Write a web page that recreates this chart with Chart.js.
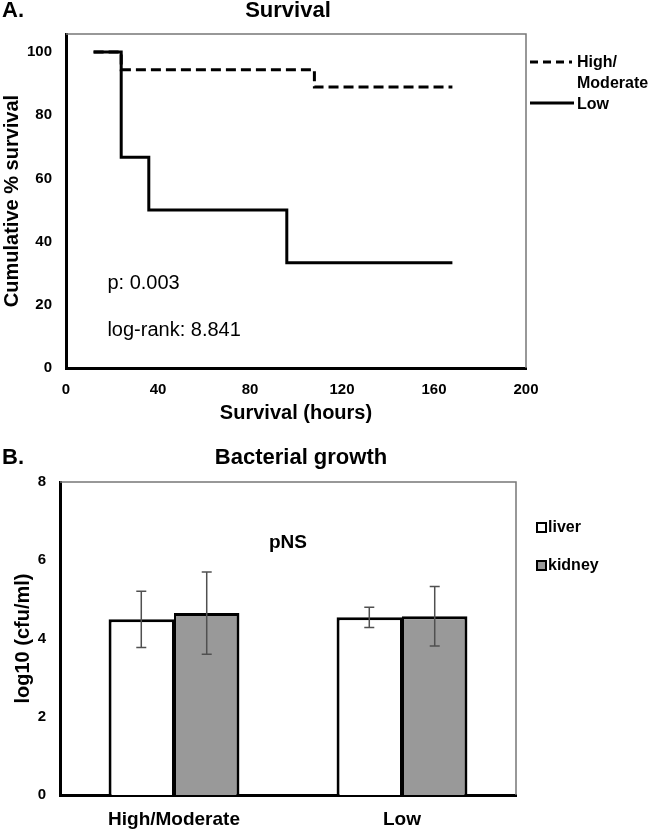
<!DOCTYPE html>
<html>
<head>
<meta charset="utf-8">
<script src="https://cdn.jsdelivr.net/npm/chart.js@4.4.1/dist/chart.umd.min.js"></script>
<style>
    body { margin: 0; background: #fff; }
    canvas { position: absolute; left: 0; }
    #survivalChart { top: 0; }
    #growthChart { top: 430px; }
</style>
</head>
<body>
<canvas id="survivalChart" width="650" height="430"></canvas>
<canvas id="growthChart" width="650" height="403"></canvas>
<script>
// panel A: Kaplan-Meier steps
var lowHours = [12, 24, 36, 96, 168];
var lowSurvival = [100, 66.7, 50, 33.3, 33.3];
var highHours = [12, 24, 108, 168];
var highSurvival = [100, 94.4, 88.9, 88.9];
var hourTicks = [0, 40, 80, 120, 160, 200];
var survivalTicks = [0, 20, 40, 60, 80, 100];

// panel B: bacterial load, mean and error
var groups = ['High/Moderate', 'Low'];
var liverMean = [4.49, 4.54];
var liverErr = [0.72, 0.26];
var kidneyMean = [4.65, 4.57];
var kidneyErr = [1.05, 0.76];
var growthTicks = [0, 2, 4, 6, 8];

var FONT = "'Liberation Sans', Arial, sans-serif";
Chart.defaults.font.family = FONT;
Chart.defaults.color = '#000';

function toPoints(xs, ys) {
    var pts = [];
    for (var i = 0; i < xs.length; i++) {
        pts.push({x: xs[i], y: ys[i]});
    }
    return pts;
}

function fixedTicks(list) {
    return function (scale) {
        scale.ticks = list.map(function (v) { return {value: v}; });
    };
}

function drawFrame(chart) {
    var a = chart.chartArea, ctx = chart.ctx;
    ctx.save();
    ctx.strokeStyle = '#777';
    ctx.lineWidth = 1.5;
    ctx.beginPath();
    ctx.moveTo(a.left, a.top);
    ctx.lineTo(a.right, a.top);
    ctx.lineTo(a.right, a.bottom);
    ctx.stroke();
    ctx.restore();
}

function text(ctx, str, x, y, size, weight, align) {
    ctx.font = weight + ' ' + size + 'px ' + FONT;
    ctx.textAlign = align || 'left';
    ctx.textBaseline = 'middle';
    ctx.fillStyle = '#000';
    ctx.fillText(str, x, y);
}

var survivalExtras = {
    id: 'survivalExtras',
    afterDraw: function (chart) {
        var ctx = chart.ctx, xs = chart.scales.x, ys = chart.scales.y;
        drawFrame(chart);
        text(ctx, 'A.', 2, 11, 22, 'bold');
        text(ctx, 'Survival', 288, 11, 22, 'bold', 'center');
        text(ctx, 'p: 0.003', xs.getPixelForValue(18), ys.getPixelForValue(26.9), 20, 'normal');
        text(ctx, 'log-rank: 8.841', xs.getPixelForValue(18), ys.getPixelForValue(12), 20, 'normal');

        // legend
        ctx.save();
        ctx.strokeStyle = '#000';
        ctx.lineWidth = 3;
        ctx.setLineDash([8, 5]);
        ctx.beginPath();
        ctx.moveTo(530, 62);
        ctx.lineTo(572, 62);
        ctx.stroke();
        ctx.setLineDash([]);
        ctx.beginPath();
        ctx.moveTo(530, 103);
        ctx.lineTo(574, 103);
        ctx.stroke();
        ctx.restore();
        text(ctx, 'High/', 577, 63, 16, 'bold');
        text(ctx, 'Moderate', 577, 84, 16, 'bold');
        text(ctx, 'Low', 577, 105, 16, 'bold');
    }
};

new Chart(document.getElementById('survivalChart'), {
    type: 'line',
    data: {
        datasets: [{
            label: 'Low',
            data: toPoints(lowHours, lowSurvival),
            borderColor: '#000',
            borderWidth: 3,
            stepped: 'before',
            pointRadius: 0,
            fill: false
        }, {
            label: 'High/Moderate',
            data: toPoints(highHours, highSurvival),
            borderColor: '#000',
            borderWidth: 3,
            borderDash: [10, 5],
            stepped: 'before',
            pointRadius: 0,
            fill: false
        }]
    },
    options: {
        responsive: false,
        animation: false,
        devicePixelRatio: 1,
        layout: {padding: {left: 0, top: 34, right: 124, bottom: 0}},
        plugins: {legend: {display: false}, tooltip: {enabled: false}},
        scales: {
            x: {
                type: 'linear',
                min: 0,
                max: 200,
                afterBuildTicks: fixedTicks(hourTicks),
                afterFit: function (s) { s.height = 62; },
                grid: {display: false, drawTicks: false},
                border: {display: true, color: '#000', width: 3},
                ticks: {padding: 13, font: {size: 15, weight: 'bold'}},
                title: {
                    display: true,
                    text: 'Survival (hours)',
                    font: {size: 20, weight: 'bold'},
                    padding: {top: 0, bottom: 5}
                }
            },
            y: {
                min: 0,
                max: 105.7,
                afterBuildTicks: fixedTicks(survivalTicks),
                afterFit: function (s) { s.width = 66; },
                grid: {display: false, drawTicks: false},
                border: {display: true, color: '#000', width: 3},
                ticks: {padding: 14, font: {size: 15, weight: 'bold'}},
                title: {
                    display: true,
                    text: 'Cumulative % survival',
                    font: {size: 20, weight: 'bold'},
                    padding: {top: 0, bottom: 0}
                }
            }
        }
    },
    plugins: [survivalExtras]
});

var growthExtras = {
    id: 'growthExtras',
    afterDatasetsDraw: function (chart) {
        var ctx = chart.ctx, ys = chart.scales.y;
        var errs = [liverErr, kidneyErr];
        var means = [liverMean, kidneyMean];
        ctx.save();
        ctx.strokeStyle = '#505050';
        ctx.lineWidth = 1.5;
        for (var d = 0; d < 2; d++) {
            var meta = chart.getDatasetMeta(d);
            for (var i = 0; i < meta.data.length; i++) {
                var x = meta.data[i].x;
                var hi = ys.getPixelForValue(means[d][i] + errs[d][i]);
                var lo = ys.getPixelForValue(means[d][i] - errs[d][i]);
                ctx.beginPath();
                ctx.moveTo(x, hi); ctx.lineTo(x, lo);
                ctx.moveTo(x - 5, hi); ctx.lineTo(x + 5, hi);
                ctx.moveTo(x - 5, lo); ctx.lineTo(x + 5, lo);
                ctx.stroke();
            }
        }
        ctx.restore();
    },
    afterDraw: function (chart) {
        var ctx = chart.ctx, xs = chart.scales.x, ys = chart.scales.y;
        drawFrame(chart);
        text(ctx, 'B.', 2, 28, 22, 'bold');
        text(ctx, 'Bacterial growth', 301, 28, 22, 'bold', 'center');
        text(ctx, 'pNS', xs.getPixelForValue(0.5), ys.getPixelForValue(6.45), 19, 'bold', 'center');

        // legend
        ctx.save();
        ctx.lineWidth = 2;
        ctx.strokeStyle = '#000';
        ctx.fillStyle = '#fff';
        ctx.fillRect(537, 93, 9, 9);
        ctx.strokeRect(537, 93, 9, 9);
        ctx.fillStyle = '#999';
        ctx.fillRect(537, 131, 9, 9);
        ctx.strokeRect(537, 131, 9, 9);
        ctx.restore();
        text(ctx, 'liver', 548, 98, 16, 'bold');
        text(ctx, 'kidney', 548, 136, 16, 'bold');
    }
};

new Chart(document.getElementById('growthChart'), {
    type: 'bar',
    data: {
        labels: groups,
        datasets: [{
            label: 'liver',
            data: liverMean,
            backgroundColor: '#fff',
            borderColor: '#000',
            borderWidth: {left: 3, top: 3, right: 2, bottom: 0}
        }, {
            label: 'kidney',
            data: kidneyMean,
            backgroundColor: '#999',
            borderColor: '#000',
            borderWidth: {left: 2, top: 3, right: 3, bottom: 0}
        }]
    },
    options: {
        responsive: false,
        animation: false,
        devicePixelRatio: 1,
        layout: {padding: {left: 0, top: 52, right: 134, bottom: 0}},
        datasets: {bar: {categoryPercentage: 0.574, barPercentage: 1}},
        plugins: {legend: {display: false}, tooltip: {enabled: false}},
        scales: {
            x: {
                afterFit: function (s) { s.height = 38; },
                grid: {display: false, drawTicks: false},
                border: {display: true, color: '#000', width: 3},
                ticks: {padding: 13, font: {size: 19, weight: 'bold'}}
            },
            y: {
                min: 0,
                max: 8,
                afterBuildTicks: fixedTicks(growthTicks),
                afterFit: function (s) { s.width = 60; },
                grid: {display: false, drawTicks: false},
                border: {display: true, color: '#000', width: 3},
                ticks: {padding: 14, font: {size: 15, weight: 'bold'}},
                title: {
                    display: true,
                    text: 'log10 (cfu/ml)',
                    font: {size: 20, weight: 'bold'},
                    padding: {top: 11, bottom: 0}
                }
            }
        }
    },
    plugins: [growthExtras]
});
</script>
</body>
</html>
